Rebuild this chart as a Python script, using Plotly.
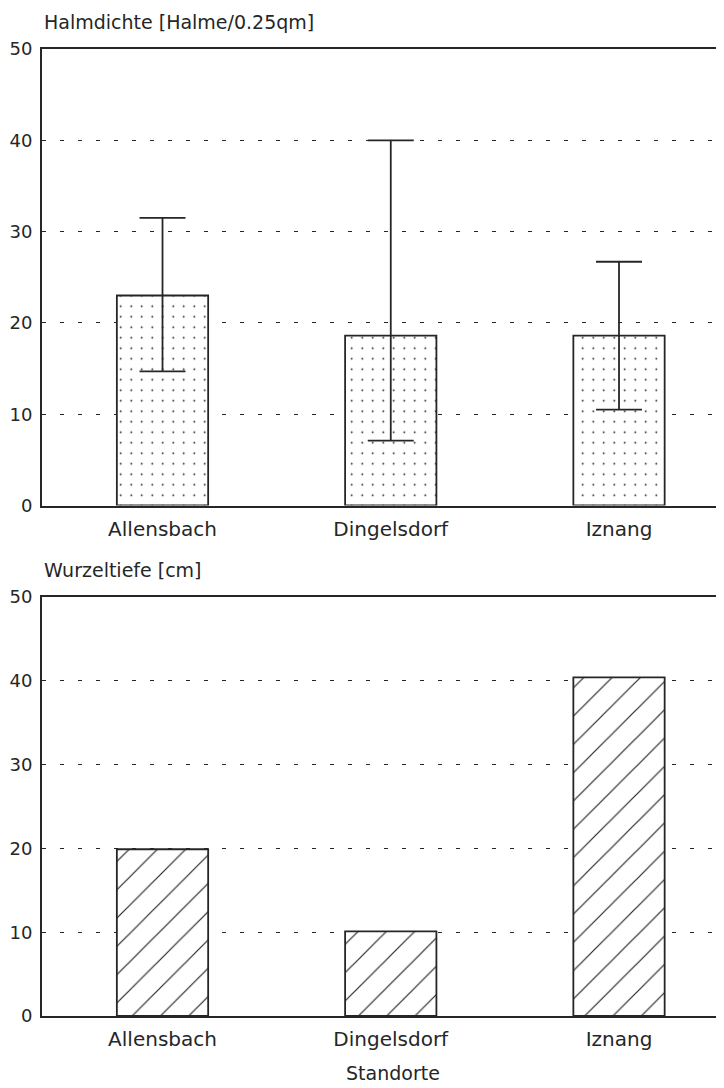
import plotly.graph_objects as go
from plotly.subplots import make_subplots

standorte = ["Allensbach", "Dingelsdorf", "Iznang"]
halmdichte = [23.0, 18.6, 18.6]
halm_upper = [31.5, 40.0, 26.7]
halm_lower = [14.7, 7.1, 10.5]
wurzeltiefe = [19.9, 10.1, 40.4]
y_ticks = [0, 10, 20, 30, 40, 50]

err_plus = [u - v for u, v in zip(halm_upper, halmdichte)]
err_minus = [v - l for v, l in zip(halmdichte, halm_lower)]

INK = "#262626"
FONT = "DejaVu Sans, Liberation Sans, sans-serif"

fig = make_subplots(rows=2, cols=1, vertical_spacing=0.0)

fig.add_trace(go.Bar(
    x=[0, 1, 2], y=halmdichte, width=0.4,
    marker=dict(color="white", line=dict(color=INK, width=1.8),
                pattern=dict(shape=".", size=10.5, solidity=0.02, fgopacity=1,
                             fgcolor="#111111", bgcolor="white", fillmode="overlay")),
    error_y=dict(type="data", symmetric=False, array=err_plus, arrayminus=err_minus,
                 color=INK, thickness=1.8, width=23),
    showlegend=False), row=1, col=1)

fig.add_trace(go.Bar(
    x=[0, 1, 2], y=wurzeltiefe, width=0.4,
    marker=dict(color="white", line=dict(color=INK, width=1.8),
                pattern=dict(shape="/", size=20, solidity=0.06, fgopacity=1,
                             fgcolor=INK, bgcolor="white", fillmode="overlay")),
    showlegend=False), row=2, col=1)

# page has an 8px body margin; figure coordinates = page coordinates - 8
W, H = 716, 1080
top_px, bot_px = 41, 1008
area = bot_px - top_px
d1 = ((bot_px - 497.5) / area, 1.0)
d2 = (0.0, (bot_px - 589) / area)

xcommon = dict(range=[-0.528, 2.46], tickmode="array", tickvals=[0, 1, 2], ticktext=standorte,
               showline=True, linecolor=INK, linewidth=2, mirror=True, showgrid=False,
               zeroline=False, ticks="", tickfont=dict(family=FONT, size=20, color=INK),
               ticklabelstandoff=4, automargin=False)
ycommon = dict(range=[0, 50], tickmode="array", tickvals=y_ticks,
               showline=True, linecolor=INK, linewidth=2, mirror=False,
               showgrid=True, gridcolor=INK, gridwidth=1.2, griddash="4px,14px",
               zeroline=False, ticks="", tickfont=dict(family=FONT, size=18, color=INK),
               ticklabelstandoff=4, automargin=False)

fig.update_layout(
    width=W, height=H,
    margin=dict(l=34, r=0, t=top_px, b=H - bot_px),
    plot_bgcolor="white", paper_bgcolor="white",
    xaxis=dict(**xcommon, domain=[0, 1], anchor="y"),
    xaxis2=dict(**xcommon, domain=[0, 1], anchor="y2"),
    yaxis=dict(**ycommon, domain=list(d1), anchor="x"),
    yaxis2=dict(**ycommon, domain=list(d2), anchor="x2"),
)

fig.add_annotation(text="Halmdichte [Halme/0.25qm]", xref="paper", yref="paper",
                   x=0.0, y=1.0, yshift=27, xanchor="left", yanchor="middle", showarrow=False,
                   font=dict(family=FONT, size=19, color=INK))
fig.add_annotation(text="Wurzeltiefe [cm]", xref="paper", yref="paper",
                   x=0.0, y=d2[1], yshift=27, xanchor="left", yanchor="middle", showarrow=False,
                   font=dict(family=FONT, size=19, color=INK))
fig.add_annotation(text="Standorte", xref="paper", yref="paper",
                   x=(393 - 42) / 682, y=0.0, yshift=-57, xanchor="center", yanchor="middle",
                   showarrow=False, font=dict(family=FONT, size=19, color=INK))

fig.write_html("out.html")
